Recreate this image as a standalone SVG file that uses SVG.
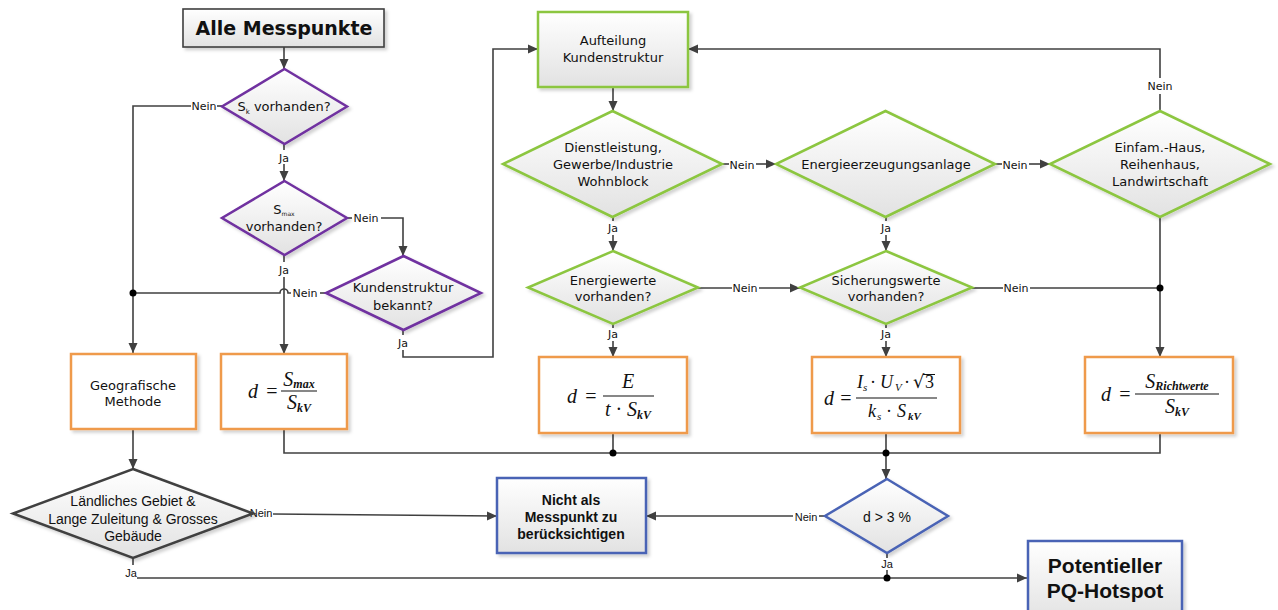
<svg xmlns="http://www.w3.org/2000/svg" width="1278" height="610" viewBox="0 0 1278 610">
<defs>
<linearGradient id="gr" x1="0" y1="0" x2="0" y2="1">
<stop offset="0" stop-color="#ffffff"/>
<stop offset="1" stop-color="#e2e2e2"/>
</linearGradient>
<filter id="sh" x="-10%" y="-10%" width="125%" height="130%">
<feDropShadow dx="2.5" dy="2.5" stdDeviation="1.5" flood-color="#000" flood-opacity="0.18"/>
</filter>
<marker id="ar" viewBox="0 0 10 10" refX="10" refY="5" markerWidth="10" markerHeight="10" markerUnits="userSpaceOnUse" orient="auto">
<path d="M0,0.5 L10,5 L0,9.5 z" fill="#404040"/>
</marker>
<style>
.c{fill:none;stroke:#404040;stroke-width:1.6}
.a{marker-end:url(#ar)}
.dot{fill:#000}
.pu{fill:url(#gr);stroke:#7030a0;stroke-width:2.5;filter:url(#sh)}
.gn{fill:url(#gr);stroke:#8cc640;stroke-width:2.5;filter:url(#sh)}
.or{fill:#ffffff;stroke:#ef9a4c;stroke-width:2.5;filter:url(#sh)}
.bl{fill:url(#gr);stroke:#4a63b5;stroke-width:2.5;filter:url(#sh)}
.gy{fill:url(#gr);stroke:#404040;stroke-width:1.6;filter:url(#sh)}
.dk{fill:url(#gr);stroke:#404040;stroke-width:2.5;filter:url(#sh)}
text{font-family:"DejaVu Sans",sans-serif;fill:#111;text-anchor:middle}
.t{font-size:13px}
.l{font-size:11px}
.n{font-family:"Liberation Sans",sans-serif;font-size:14px}
.nl{font-family:"Liberation Sans",sans-serif;font-size:11px}
.b{font-family:"Liberation Sans",sans-serif;font-weight:bold;font-size:14px}
.bb{font-family:"Liberation Sans",sans-serif;font-weight:bold;font-size:21px}
.m{font-family:"Liberation Serif",serif;font-style:italic;font-size:20px}
.mn{font-style:normal}
.s{font-weight:bold;font-size:12px}
.st{text-anchor:start}
</style>
</defs>

<g id="connectors">
<path class="c a" d="M284,47 V69"/>
<path class="c" d="M222,106 H217"/>
<path class="c a" d="M191,106 H133 V353"/>
<path class="c" d="M284,144 V150"/>
<path class="c a" d="M284,164 V181"/>
<path class="c" d="M347,218 H352"/>
<path class="c a" d="M381,218 H403 V256"/>
<path class="c" d="M284,255 V262"/>
<path class="c a" d="M284,277 V354"/>
<path class="c" d="M326,293 H320"/>
<path class="c" d="M291,293 H288 A4,4 0 0 0 280,293 H133"/>
<circle class="dot" cx="133" cy="293" r="3.5"/>
<path class="c" d="M403,330 V335"/>
<path class="c a" d="M403,350 V357 H493 V49 H538"/>
<path class="c a" d="M613,87 V111"/>
<path class="c" d="M722,164 H729"/>
<path class="c a" d="M756,164 H776"/>
<path class="c" d="M995,164 H1002"/>
<path class="c a" d="M1029,164 H1050"/>
<path class="c" d="M1160,111 V94"/>
<path class="c a" d="M1160,78 V49 H688"/>
<path class="c" d="M613,217 V221"/>
<path class="c a" d="M613,235 V251"/>
<path class="c" d="M886,217 V221"/>
<path class="c a" d="M886,235 V251"/>
<path class="c" d="M698,288 H732"/>
<path class="c a" d="M759,288 H800"/>
<path class="c" d="M972,288 H1003"/>
<path class="c" d="M1030,288 H1160"/>
<path class="c a" d="M1160,217 V357"/>
<circle class="dot" cx="1160" cy="288" r="3.5"/>
<path class="c" d="M613,324 V328"/>
<path class="c a" d="M613,341 V357"/>
<path class="c" d="M886,324 V328"/>
<path class="c a" d="M886,341 V357"/>
<path class="c" d="M284,429 V453 H1160 V433"/>
<path class="c" d="M613,433 V453"/>
<path class="c a" d="M886,433 V479"/>
<circle class="dot" cx="613" cy="453" r="3.5"/>
<circle class="dot" cx="886" cy="453" r="3.5"/>
<path class="c a" d="M133,429 V469"/>
<path class="c a" d="M273,514 L497,516"/>
<path class="c" d="M825,516 H819"/>
<path class="c a" d="M793,516 H646"/>
<path class="c" d="M133,558 V565"/>
<path class="c a" d="M137,578 H1027"/>
<path class="c" d="M887,553 V558"/>
<path class="c" d="M887,570 V578"/>
<circle class="dot" cx="887" cy="578" r="3.5"/>
<text class="l" x="204" y="110">Nein</text>
<text class="l" x="284" y="162">Ja</text>
<text class="l" x="366" y="222">Nein</text>
<text class="l" x="284" y="274">Ja</text>
<text class="l" x="305" y="297">Nein</text>
<text class="l" x="403" y="347">Ja</text>
<text class="l" x="742" y="169">Nein</text>
<text class="l" x="1015" y="169">Nein</text>
<text class="l" x="1160" y="90">Nein</text>
<text class="l" x="613" y="232">Ja</text>
<text class="l" x="886" y="232">Ja</text>
<text class="l" x="745" y="292">Nein</text>
<text class="l" x="1016" y="292">Nein</text>
<text class="l" x="613" y="338">Ja</text>
<text class="l" x="886" y="338">Ja</text>
<text class="nl" x="261" y="517">Nein</text>
<text class="nl" x="131" y="577">Ja</text>
<text class="nl" x="806" y="521">Nein</text>
<text class="nl" x="887" y="568">Ja</text>
</g>

<g id="alle">
<rect class="gy" x="183" y="9" width="201" height="38"/>
<text x="284" y="35" style="font-weight:bold;font-size:19px">Alle Messpunkte</text>
</g>

<g id="d-sk">
<polygon class="pu" points="284.5,69 347,106.5 284.5,144 222,106.5"/>
<text class="t" x="284" y="111">S<tspan font-size="7" dy="3">k</tspan><tspan dy="-3"> vorhanden?</tspan></text>
</g>

<g id="d-smax">
<polygon class="pu" points="284.5,181 347,218 284.5,255 222,218"/>
<text class="t" x="284" y="214">S<tspan font-size="6" dy="2">max</tspan></text>
<text class="t" x="284" y="231">vorhanden?</text>
</g>

<g id="d-kunden">
<polygon class="pu" points="403.5,256 481,293 403.5,330 326,293"/>
<text class="t" x="403" y="292">Kundenstruktur</text>
<text class="t" x="403" y="310">bekannt?</text>
</g>

<g id="geo">
<rect class="or" x="71" y="354" width="125" height="75"/>
<text class="t" x="133" y="390">Geografische</text>
<text class="t" x="133" y="406">Methode</text>
</g>

<g id="f-smax">
<rect class="or" x="221" y="354" width="126" height="75"/>
<text class="m" x="253" y="398">d</text>
<text class="m mn" x="272" y="398">=</text>
<line x1="281" y1="391" x2="317" y2="391" stroke="#111" stroke-width="1.2"/>
<text class="m" x="299" y="386">S<tspan class="s" dy="2">max</tspan></text>
<text class="m" x="299" y="409">S<tspan class="s" dy="3">kV</tspan></text>
</g>

<g id="aufteilung">
<rect class="gn" x="538" y="12" width="150" height="75"/>
<text class="t" x="613" y="45">Aufteilung</text>
<text class="t" x="613" y="62">Kundenstruktur</text>
</g>

<g id="d-dienst">
<polygon class="gn" points="612.5,111 722,164 612.5,217 503,164"/>
<text class="t" x="613" y="152">Dienstleistung,</text>
<text class="t" x="613" y="169">Gewerbe/Industrie</text>
<text class="t" x="613" y="186">Wohnblock</text>
</g>

<g id="d-erzeugung">
<polygon class="gn" points="885.5,111 995,164 885.5,217 776,164"/>
<text class="t" x="886" y="169">Energieerzeugungsanlage</text>
</g>

<g id="d-einfam">
<polygon class="gn" points="1160,111 1270,164 1160,217 1050,164"/>
<text class="t" x="1160" y="152">Einfam.-Haus,</text>
<text class="t" x="1160" y="169">Reihenhaus,</text>
<text class="t" x="1160" y="186">Landwirtschaft</text>
</g>

<g id="d-energie">
<polygon class="gn" points="613,251 698,287.5 613,324 528,287.5"/>
<text class="t" x="613" y="285">Energiewerte</text>
<text class="t" x="613" y="301">vorhanden?</text>
</g>

<g id="d-sicherung">
<polygon class="gn" points="886,251 972,287.5 886,324 800,287.5"/>
<text class="t" x="886" y="285">Sicherungswerte</text>
<text class="t" x="886" y="301">vorhanden?</text>
</g>

<g id="f-energie">
<rect class="or" x="539" y="357" width="148" height="76"/>
<text class="m" x="572" y="403">d</text>
<text class="m mn" x="591" y="403">=</text>
<line x1="603" y1="396" x2="654" y2="396" stroke="#111" stroke-width="1.2"/>
<text class="m" x="628" y="388">E</text>
<text class="m" x="628" y="416">t <tspan class="mn">·</tspan> S<tspan class="s" dy="3">kV</tspan></text>
</g>

<g id="f-sicherung">
<rect class="or" x="812" y="357" width="148" height="76"/>
<text class="m" x="829" y="405">d</text>
<text class="m mn" x="846" y="405">=</text>
<line x1="856" y1="398" x2="937" y2="398" stroke="#111" stroke-width="1.2"/>
<text class="m st" x="857" y="388" style="font-size:18px">I</text>
<text class="m st" x="863" y="391" style="font-size:11px">s</text>
<text class="m mn st" x="870" y="388" style="font-size:18px">·</text>
<text class="m st" x="880" y="388" style="font-size:18px">U</text>
<text class="m st" x="895" y="391" style="font-size:11px">V</text>
<text class="m mn st" x="904" y="388" style="font-size:18px">·</text>
<text class="m mn st" x="913" y="388" style="font-size:18px;font-family:'DejaVu Serif',serif">√</text>
<text class="m mn st" x="925" y="388" style="font-size:18px">3</text>
<line x1="923" y1="374.5" x2="935" y2="374.5" stroke="#111" stroke-width="1"/>
<text class="m st" x="868" y="417" style="font-size:18px">k</text>
<text class="m st" x="877" y="420" style="font-size:11px">s</text>
<text class="m mn st" x="886" y="417" style="font-size:18px">·</text>
<text class="m st" x="897" y="417" style="font-size:18px">S</text>
<text class="s st" x="908" y="420" style="font-family:'Liberation Serif',serif;font-style:italic;font-size:11px">kV</text>
</g>

<g id="f-richt">
<rect class="or" x="1085" y="357" width="148" height="76"/>
<text class="m" x="1106" y="401">d</text>
<text class="m mn" x="1125" y="401">=</text>
<line x1="1135" y1="394" x2="1219" y2="394" stroke="#111" stroke-width="1.2"/>
<text class="m" x="1177" y="388">S<tspan class="s" dy="2">Richtwerte</tspan></text>
<text class="m" x="1177" y="413">S<tspan class="s" dy="3">kV</tspan></text>
</g>

<g id="d-laendlich">
<polygon class="dk" points="133,469 253,513.5 133,558 13,513.5"/>
<text class="n" x="133" y="506">Ländliches Gebiet &amp;</text>
<text class="n" x="133" y="524">Lange Zuleitung &amp; Grosses</text>
<text class="n" x="133" y="541">Gebäude</text>
</g>

<g id="nicht">
<rect class="bl" x="497" y="478" width="149" height="75"/>
<text class="b" x="571" y="505">Nicht als</text>
<text class="b" x="571" y="522">Messpunkt zu</text>
<text class="b" x="571" y="539">berücksichtigen</text>
</g>

<g id="d-3">
<polygon class="bl" points="887,479 948,516 887,553 825,516"/>
<text class="n" x="887" y="522">d &gt; 3 %</text>
</g>

<g id="hotspot">
<rect class="bl" x="1028" y="541" width="154" height="80"/>
<text class="bb" x="1105" y="573">Potentieller</text>
<text class="bb" x="1105" y="598">PQ-Hotspot</text>
</g>
</svg>
